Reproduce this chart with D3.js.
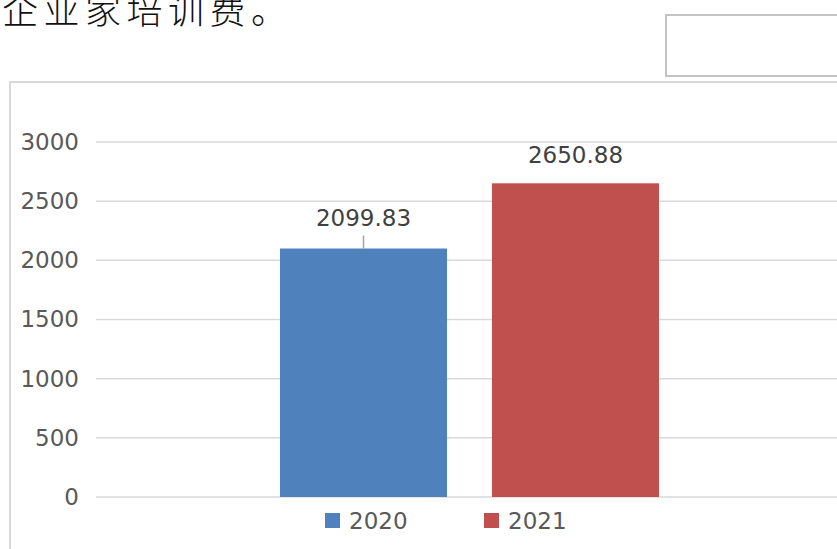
<!DOCTYPE html>
<html>
<head>
<meta charset="utf-8">
<script src="https://cdn.jsdelivr.net/npm/d3@7"></script>
<style>
  body { margin: 0; background: #fff; }
  svg { display: block; font-family: "DejaVu Sans", sans-serif; }
</style>
</head>
<body>
<svg id="chart" width="837" height="549"></svg>
<script>
// chart values
var categories = ["企业家培训费"];
var series = ["2020", "2021"];
var values = [2099.83, 2650.88];
var colors = ["#4f81bd", "#c0504d"];
var yTicks = [0, 500, 1000, 1500, 2000, 2500, 3000];
var labelGap = [23, 20];      // label baseline above bar top
var leader = [true, false];   // 2020 label was dragged up, has a leader line

var svg = d3.select("#chart");
var W = 837, H = 549;

// bit of paragraph text above the chart (cut by the page top)
svg.append("text")
    .text("企业家培训费。")
    .attr("x", 2)
    .attr("y", 24)
    .attr("fill", "#111")
    .attr("font-family", "'Noto Sans CJK SC', sans-serif")
    .attr("font-weight", 300)
    .attr("font-size", 36)
    .attr("letter-spacing", 5.5);

// empty box top right
svg.append("rect")
    .attr("x", 666).attr("y", 15)
    .attr("width", 200).attr("height", 61)
    .attr("fill", "none")
    .attr("stroke", "#c3c3c3")
    .attr("stroke-width", 2);

// chart frame
svg.append("rect")
    .attr("x", 10).attr("y", 82)
    .attr("width", 900).attr("height", 500)
    .attr("fill", "#fff")
    .attr("stroke", "#d9d9d9")
    .attr("stroke-width", 2);

var plotL = 96, plotR = 843;
var y = d3.scaleLinear().domain([0, 3000]).range([497, 142]);

var x0 = d3.scaleBand().domain(categories).range([plotL, plotR])
    .paddingInner(0).paddingOuter(0.4855);
var x1 = d3.scaleBand().domain(series).range([0, x0.bandwidth()])
    .paddingInner(0.212).paddingOuter(0);

// gridlines
svg.append("g").selectAll("line")
    .data(yTicks)
    .enter()
    .append("line")
    .attr("x1", plotL).attr("x2", W)
    .attr("y1", function(d){return y(d);})
    .attr("y2", function(d){return y(d);})
    .attr("stroke", "#d9d9d9")
    .attr("stroke-width", 1.5);

// y axis labels
var yAxis = d3.axisLeft(y).tickValues(yTicks).tickFormat(d3.format("d"))
    .tickSize(0).tickPadding(0);
var gy = svg.append("g").attr("transform", "translate(79,0)").call(yAxis);
gy.select(".domain").remove();
gy.selectAll("text")
    .attr("font-family", "'DejaVu Sans', sans-serif")
    .attr("font-size", 23)
    .attr("fill", "#595959");

var gx = x0(categories[0]);

// bars
svg.append("g").selectAll("rect")
    .data(values)
    .enter()
    .append("rect")
    .attr("x", function(d, i){return gx + x1(series[i]);})
    .attr("y", function(d){return y(d);})
    .attr("width", x1.bandwidth())
    .attr("height", function(d){return y(0) - y(d);})
    .attr("fill", function(d, i){return colors[i];});

// leader lines
values.forEach(function(d, i) {
    if (!leader[i]) return;
    var cx = gx + x1(series[i]) + x1.bandwidth() / 2;
    svg.append("line")
        .attr("x1", cx).attr("x2", cx)
        .attr("y1", y(d) - labelGap[i] + 10)
        .attr("y2", y(d))
        .attr("stroke", "#a6a6a6")
        .attr("stroke-width", 1.5);
});

// data labels
svg.append("g").selectAll("text")
    .data(values)
    .enter()
    .append("text")
    .text(function(d){return d.toFixed(2);})
    .attr("x", function(d, i){return gx + x1(series[i]) + x1.bandwidth() / 2;})
    .attr("y", function(d, i){return y(d) - labelGap[i];})
    .attr("text-anchor", "middle")
    .attr("font-size", 23)
    .attr("fill", "#404040");

// legend
var legX = [325, 484];
var leg = svg.append("g").selectAll("g")
    .data(series)
    .enter()
    .append("g")
    .attr("transform", function(d, i){return "translate(" + legX[i] + ",513)";});
leg.append("rect")
    .attr("width", 15).attr("height", 15)
    .attr("fill", function(d, i){return colors[i];});
leg.append("text")
    .text(function(d){return d;})
    .attr("x", 24)
    .attr("y", 16)
    .attr("font-size", 23)
    .attr("fill", "#595959");
</script>
</body>
</html>
